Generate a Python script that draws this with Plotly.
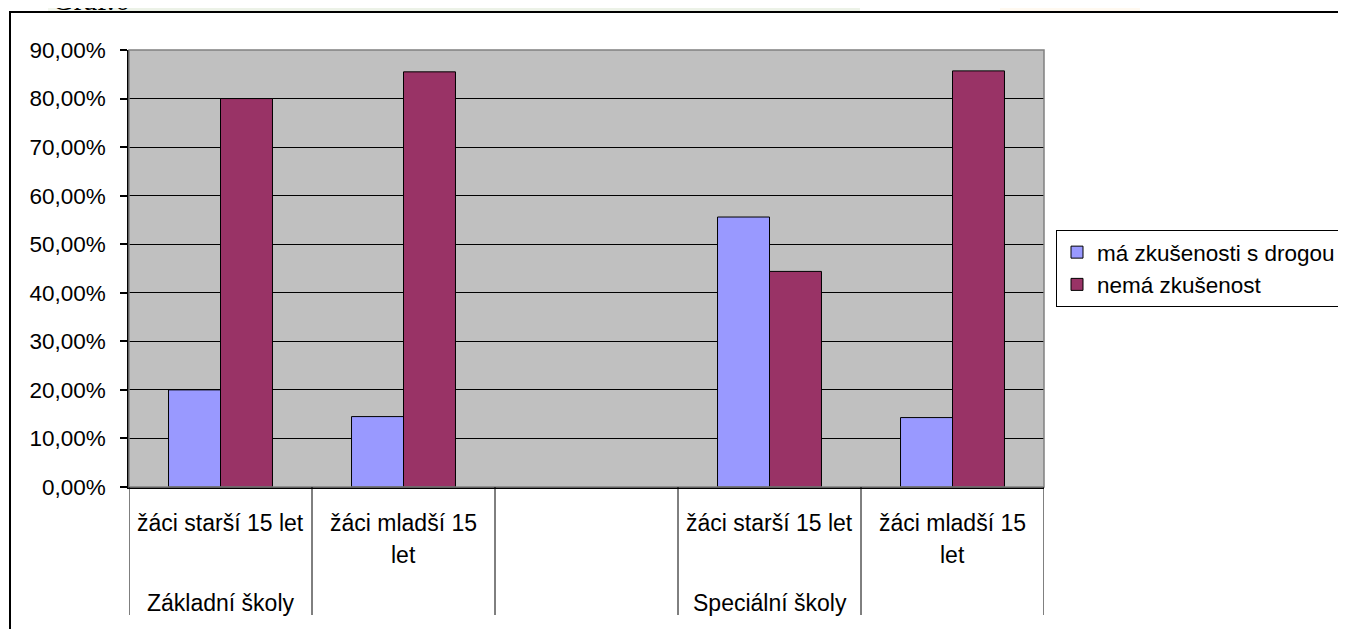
import plotly.graph_objects as go

# ---- data ----
categories = ["Základní školy | žáci starší 15 let", "Základní školy | žáci mladší 15 let", "",
              "Speciální školy | žáci starší 15 let", "Speciální školy | žáci mladší 15 let"]
inner_labels = [["žáci starší 15 let"], ["žáci mladší 15", "let"], [], ["žáci starší 15 let"], ["žáci mladší 15", "let"]]
outer_labels = ["Základní školy", "", "", "Speciální školy", ""]
series_names = ["má zkušenosti s drogou", "nemá zkušenost"]
ma_zkusenost = [0.20, 0.145, None, 0.556, 0.143]
nema_zkusenost = [0.80, 0.855, None, 0.444, 0.857]
y_ticks = [0, 0.1, 0.2, 0.3, 0.4, 0.5, 0.6, 0.7, 0.8, 0.9]

# page body has an 8px margin, so figure positions are shifted to land on screen pixels
OFF = 8
W, H = 1346, 629
PLOT_L, PLOT_R, PLOT_T, PLOT_B = 129, 1044, 50, 487   # screen pixels
L = PLOT_L - OFF
T = PLOT_T - OFF
R = W - (PLOT_R - OFF)
B = H - (PLOT_B - OFF)
PH = PLOT_B - PLOT_T
PW = PLOT_R - PLOT_L

def py(pix):
    return (PLOT_B - pix) / PH

def px(pix):
    return (pix - PLOT_L) / PW

FONT = "Arial, Liberation Sans, sans-serif"
xs = list(range(len(categories)))

fig = go.Figure()
fig.add_trace(go.Bar(x=xs, y=ma_zkusenost, name=series_names[0],
                     marker=dict(color="#9999FF", line=dict(color="black", width=1))))
fig.add_trace(go.Bar(x=xs, y=nema_zkusenost, name=series_names[1],
                     marker=dict(color="#993366", line=dict(color="black", width=1))))

shapes = []
# background strips above frame
shapes.append(dict(type="rect", xref="paper", yref="paper", x0=px(48), x1=px(88), y0=py(12), y1=py(0),
                   fillcolor="#F2F6EE", line=dict(width=0), layer="below"))
shapes.append(dict(type="rect", xref="paper", yref="paper", x0=px(88), x1=px(860), y0=py(12), y1=py(0),
                   fillcolor="#ECF2E7", line=dict(width=0), layer="below"))
shapes.append(dict(type="rect", xref="paper", yref="paper", x0=px(1000), x1=px(1140), y0=py(12), y1=py(0),
                   fillcolor="#FFF9F0", line=dict(width=0), layer="below"))
# outer frame
shapes.append(dict(type="rect", xref="paper", yref="paper", x0=px(10), x1=px(1370), y0=py(12), y1=py(650),
                   line=dict(color="black", width=2), fillcolor="rgba(0,0,0,0)"))
# plot area border (gray)
shapes.append(dict(type="rect", xref="paper", yref="paper", x0=0, x1=1, y0=0, y1=1,
                   line=dict(color="#808080", width=1.5), layer="above"))
# category separators
for k in range(len(categories) + 1):
    shapes.append(dict(type="line", xref="x", yref="paper", x0=k - 0.5, x1=k - 0.5,
                       y0=0, y1=py(615), line=dict(color="black", width=1)))

annotations = []
for k, lines in enumerate(inner_labels):
    for j, line in enumerate(lines):
        annotations.append(dict(x=k, xref="x", y=py(523 + 32 * j), yref="paper", text=line,
                                showarrow=False, xanchor="center", yanchor="middle",
                                font=dict(family=FONT, size=23, color="black")))
for k, lab in enumerate(outer_labels):
    if lab:
        annotations.append(dict(x=k, xref="x", y=py(603), yref="paper", text=lab,
                                showarrow=False, xanchor="center", yanchor="middle",
                                font=dict(family=FONT, size=23, color="black")))
annotations.append(dict(x=px(50), xref="paper", y=py(18), yref="paper", text="Graf.6",
                        showarrow=False, xanchor="left", yanchor="bottom",
                        font=dict(family="Liberation Serif, Times New Roman, serif", size=30, color="black")))

fig.update_layout(
    width=W, height=H,
    margin=dict(l=L, r=R, t=T, b=B, pad=0, autoexpand=False),
    paper_bgcolor="white", plot_bgcolor="#C0C0C0",
    separators=", ",
    barmode="group", bargap=0.432, bargroupgap=0,
    font=dict(family=FONT, size=22, color="black"),
    showlegend=True,
    legend=dict(x=px(1056), y=py(230), xanchor="left", yanchor="top",
                bordercolor="black", borderwidth=1, bgcolor="white",
                font=dict(family=FONT, size=22.5, color="black"),
                tracegroupgap=0, itemclick=False),
    xaxis=dict(range=[-0.5, len(categories) - 0.5], showticklabels=False, ticks="",
               showgrid=False, zeroline=False, showline=True, linecolor="black", linewidth=1.5),
    yaxis=dict(range=[0, 0.9], tickvals=y_ticks, tickformat=".2%", ticks="outside", ticklen=7,
               tickcolor="black", tickwidth=1.5, showgrid=True, gridcolor="black", gridwidth=1.2,
               zeroline=False, showline=True, linecolor="black", linewidth=1.5,
               ticklabelstandoff=10, tickfont=dict(family=FONT, size=22.5, color="black")),
    shapes=shapes, annotations=annotations,
)

fig.write_html("out.html")
